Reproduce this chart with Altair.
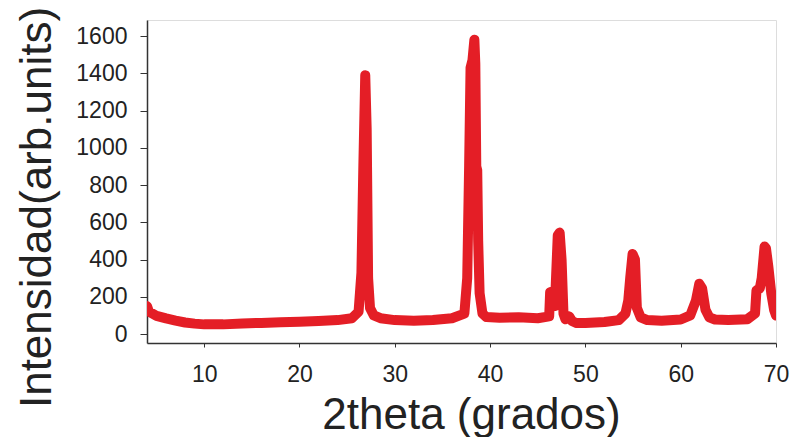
import altair as alt
import pandas as pd

# 2theta positions (drawing order) and intensities
two_theta = [4.0, 4.2, 5.0, 6.0, 7.0, 8.0, 9.0, 10.0, 12.0, 14.0, 16.0, 18.0, 20.0, 22.0, 24.0,
             25.5, 26.2, 26.5, 26.7, 26.9, 27.05, 27.2, 27.4, 27.8, 28.5, 30.0, 32.0, 34.0, 36.0,
             37.3, 37.6, 37.8, 37.95, 38.15, 38.35, 38.45, 38.55, 38.65, 38.75, 38.9, 39.2, 39.6,
             41.0, 43.0, 45.0, 46.2, 46.3, 46.6, 46.8, 47.1, 47.3, 47.5, 47.7, 47.9, 48.3, 48.6, 49.0,
             50.0, 52.0, 53.5, 54.2, 54.5, 54.7, 54.95, 55.2, 55.4, 55.8, 56.5, 58.0, 60.0,
             61.0, 61.6, 61.95, 62.25, 62.6, 63.0, 63.6, 65.0, 67.0, 67.8, 67.95, 68.3, 68.5,
             68.8, 68.95, 69.2, 69.5, 69.8, 70.0]
intensity = [150, 120, 98, 84, 72, 62, 56, 52, 52, 57, 60, 63, 66, 70, 75,
             85, 120, 330, 900, 1390, 1100, 300, 140, 100, 85, 75, 72, 75, 85,
             110, 300, 900, 1430, 1470, 1580, 1450, 900, 880, 500, 220, 110, 92,
             88, 90, 85, 95, 225, 230, 150, 530, 545, 400, 110, 80, 95, 70, 60,
             60, 65, 75, 110, 180, 300, 430, 400, 140, 90, 75, 72, 78,
             100, 180, 270, 245, 130, 90, 78, 75, 80, 110, 235, 245, 300,
             470, 460, 360, 220, 130, 100]

x_ticks = [10, 20, 30, 40, 50, 60, 70]
y_ticks = [0, 200, 400, 600, 800, 1000, 1200, 1400, 1600]

df = pd.DataFrame({"theta": two_theta, "inten": intensity})
df["order"] = range(len(df))

FONT = "Liberation Sans"

chart = alt.Chart(df).mark_line(
    color="#e41e26", strokeWidth=10, strokeCap="round", strokeJoin="round", clip=True
).encode(
    x=alt.X("theta:Q",
            scale=alt.Scale(domain=[4, 70], nice=False, zero=False),
            axis=alt.Axis(values=x_ticks, format="d", title="2theta (grados)", grid=False,
                          tickSize=4, labelPadding=16, labelFontSize=23,
                          labelFont=FONT, labelColor="#222", titleFont=FONT,
                          titleFontSize=44, titleFontWeight="normal", titleColor="#222",
                          titleX=324, titleY=85, titleAnchor="middle", titleAlign="center",
                          titleBaseline="alphabetic", domainColor="#333", domainWidth=1.5,
                          tickColor="#333", labelFlush=False)),
    y=alt.Y("inten:Q",
            scale=alt.Scale(domain=[-48, 1686], nice=False, zero=False),
            axis=alt.Axis(values=y_ticks, format="d", title="Intensidad(arb.units)", grid=False,
                          tickSize=7, labelPadding=13, labelFontSize=23,
                          labelFont=FONT, labelColor="#222", titleFont=FONT,
                          titleFontSize=44, titleFontWeight="normal", titleColor="#222",
                          titleX=-97, titleY=187, titleAngle=270, titleAlign="center",
                          titleBaseline="alphabetic", domainColor="#333", domainWidth=1.5,
                          tickColor="#333", labelFlush=False)),
    order="order:Q",
).properties(
    width=629, height=323,
    autosize=alt.AutoSizeParams(type="none"),
    padding={"left": 147, "top": 20, "right": 15, "bottom": 94},
).configure_view(
    stroke="#333", strokeWidth=1.5
).configure(background="white")

chart.save("out.html", embed_options={"renderer": "svg", "actions": False})
